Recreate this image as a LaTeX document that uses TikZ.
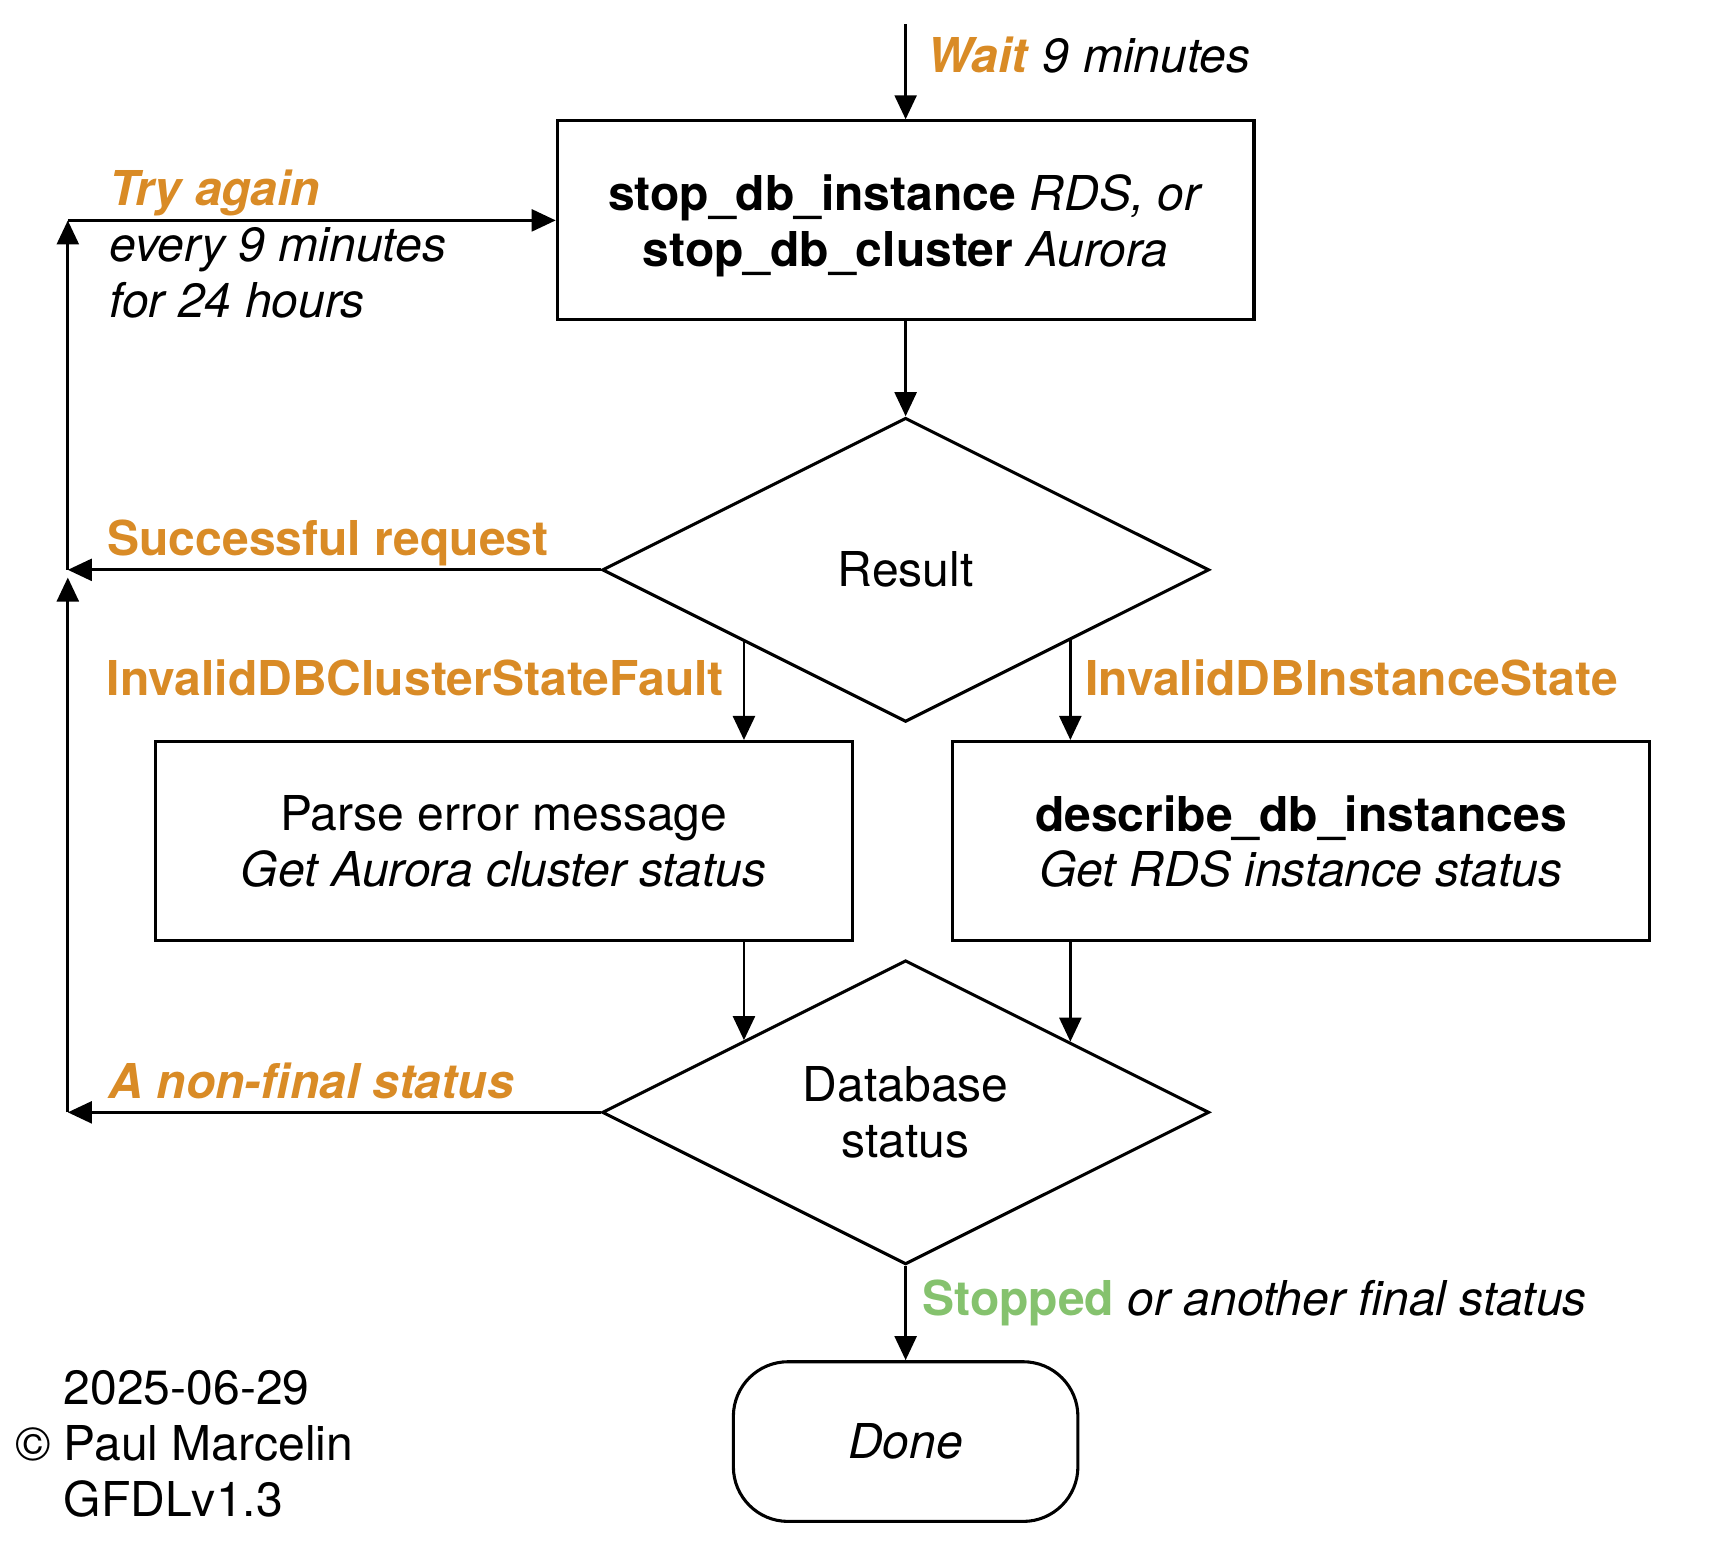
\documentclass[tikz,border=0pt]{standalone}
\usepackage{fontspec}
\setmainfont{TeX Gyre Heros}
\usepackage{tikz}
\usetikzlibrary{positioning, calc, shapes, arrows.meta}

\definecolor{retryorange}{RGB}{217,139,38}
\definecolor{stopgreen}{RGB}{133,194,110}

\tikzset{
	process/.style={draw, line width=1.6pt, minimum width=12.74cm, minimum height=3.64cm, align=center, text depth=0pt},
	decision/.style={draw, diamond, line width=1.6pt, minimum width=11.1cm, minimum height=5.56cm, inner sep=0pt, align=center},
	terminal/.style={draw, line width=1.6pt, rounded corners=1cm, minimum width=6.3cm, minimum height=2.92cm},
	flow/.style={line width=1.5pt, -{Triangle[length=0.44cm, width=0.4cm]}},
	note/.style={align=left, inner sep=0pt},
}

\begin{document}
\begin{tikzpicture}[font=\fontsize{25}{29}\selectfont]
			\useasboundingbox (0, 0) rectangle (31.36, -28.3);
			
			\node[process] (stop) at (16.56, -4.03) {\textbf{stop\_db\_instance} \textit{RDS, or}\\
				\textbf{stop\_db\_cluster} \textit{Aurora}};
			\node[decision] (result) at (16.56, -10.42) {Result};
			\node[process] (parse) at (9.21, -15.38) {Parse error message\\
				\textit{Get Aurora cluster status}};
			\node[process] (describe) at (23.79, -15.38) {\textbf{describe\_db\_instances}\\
				\textit{Get RDS instance status}};
			\node[decision] (status) at (16.56, -20.34) {Database\\status};
			\node[terminal] (done) at (16.56, -26.36) {\textit{Done}};
			
			\coordinate (start) at (16.56, -0.44);
			\coordinate (retry) at (1.24, -4.03);
			\coordinate (success) at (1.24, -10.42);
			\coordinate (merge) at (1.24, -10.56);
			\coordinate (pending) at (1.24, -20.34);
			
			\draw[flow] (start) -- (stop);
			\draw[flow] (stop) -- (result);
			\draw[flow] (result) -- (success);
			\draw[flow] (success) -- (retry);
			\draw[flow] (retry) -- (stop);
			\draw[flow] (status) -- (pending);
			\draw[flow] (pending) -- (merge);
			\draw[flow] (status) -- (done);
			
			% error branches
			\draw[flow] ($(result.west)!0.47!(result.south)$) coordinate (clusterfault) -- (clusterfault |- parse.north);
			\draw[flow] ($(result.east)!0.46!(result.south)$) coordinate (instancefault) -- (instancefault |- describe.north);
			\draw[flow] (clusterfault |- parse.south) -- ($(status.west)!0.47!(status.north)$);
			\draw[flow] (instancefault |- describe.south) -- ($(status.east)!0.46!(status.north)$);
			
			\node[note, anchor=mid west] (wait) at (16.96, -1.24) {\textcolor{retryorange}{\textbf{\textit{Wait}}} \textit{9 minutes}};
			\node[note, anchor=west] (tryagain) at (2.0, -4.46) {\textcolor{retryorange}{\textbf{\textit{Try again}}}\\
				\textit{every 9 minutes}\\
				\textit{for 24 hours}};
			\node[note, anchor=mid west] (successlabel) at (1.96, -10.07) {\textcolor{retryorange}{\textbf{Successful request}}};
			\node[note, anchor=mid east] (clusterlabel) at (13.24, -12.63) {\textcolor{retryorange}{\textbf{InvalidDBClusterStateFault}}};
			\node[note, anchor=mid west] (instancelabel) at (19.84, -12.63) {\textcolor{retryorange}{\textbf{InvalidDBInstanceState}}};
			\node[note, anchor=mid west] (pendinglabel) at (1.98, -19.99) {\textcolor{retryorange}{\textbf{\textit{A non-final status}}}};
			\node[note, anchor=mid west] (stoppedlabel) at (16.86, -23.97) {\textcolor{stopgreen}{\textbf{Stopped}} \textit{or another final status}};
			
			\node[note, anchor=west] (credits) at (1.16, -26.4) {2025-06-29\\
				\llap{\textcopyright\ }Paul Marcelin\\
				GFDLv1.3};
\end{tikzpicture}
\end{document}
